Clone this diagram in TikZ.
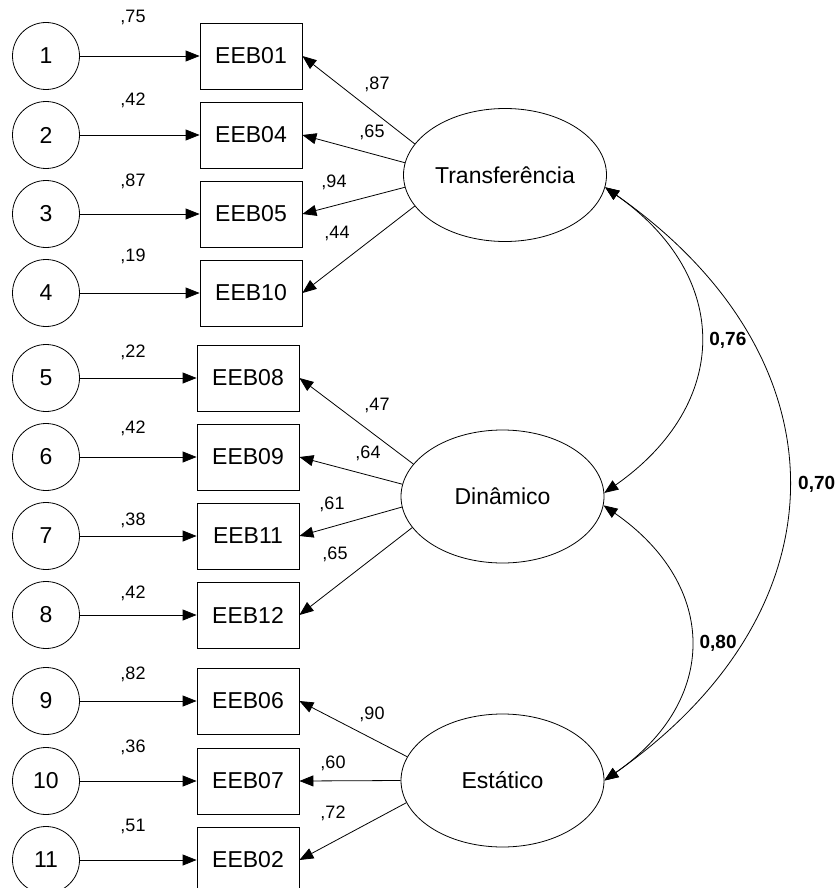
\documentclass[tikz,border=0pt]{standalone}
\usepackage{fontspec}
\setmainfont{Liberation Sans}
\usetikzlibrary{shapes.geometric,arrows.meta}

\tikzset{
  errc/.style={circle, draw, minimum size=67pt, inner sep=0pt, font=\fontsize{23}{27}\selectfont},
  obs/.style={rectangle, draw, minimum width=102pt, minimum height=66pt, inner sep=0pt, font=\fontsize{23}{27}\selectfont},
  latent/.style={ellipse, draw, minimum width=203pt, minimum height=133pt, inner sep=0pt, font=\fontsize{23}{27}\selectfont},
  coef/.style={inner sep=0pt, font=\fontsize{18}{21}\selectfont},
  corr/.style={inner sep=0pt, font=\bfseries\fontsize{19}{22}\selectfont}
}

\begin{document}
\begin{tikzpicture}[x=1pt, y={(0pt,-1pt)}, line width=0.8pt, >={Triangle[length=14pt,width=11pt]}]
    \useasboundingbox (0,0) rectangle (838,888);
    \clip (0,0) rectangle (838,888);
    % factors
    \node[latent] (tr) at (505,175) {Transferência};
    \node[latent] (din) at (502.5,496.5) {Dinâmico};
    \node[latent] (est) at (502.5,780.5) {Estático};
    % error terms and items
    \foreach \i/\x/\y/\obs/\err/\ly in {1/251/56/EEB01/{,75}/17, 2/251/135/EEB04/{,42}/100,
        3/251/214/EEB05/{,87}/181, 4/251/293/EEB10/{,19}/256, 5/248/378/EEB08/{,22}/352,
        6/248/457/EEB09/{,42}/428, 7/248/536/EEB11/{,38}/520, 8/248/615/EEB12/{,42}/593,
        9/248/701/EEB06/{,82}/674, 10/248/781/EEB07/{,36}/747, 11/248/860/EEB02/{,51}/826} {
        \node[errc] (e\i) at (46,\y) {\i};
        \node[obs] (v\i) at (\x,\y) {\obs};
        \draw[->] (e\i) -- (v\i);
        \node[coef] (w\i) at (133,\ly) {\err};
    }
    % loadings
    \foreach \f/\a/\i/\lx/\ly/\val in {tr/161/1/377/84/{,87}, tr/173/2/372/132/{,65},
        tr/187/3/334/182/{,94}, tr/199/4/337/233/{,44}, din/160/5/377/405/{,47},
        din/173/6/368/453/{,64}, din/186/7/332/504/{,61}, din/199/8/335/554/{,65},
        est/166/9/372/714/{,90}, est/180/10/333/763/{,60}, est/193/11/333/813/{,72}} {
        \draw[->] (\f.\a) -- (v\i.east);
        \node[coef] (l\i) at (\lx,\ly) {\val};
    }
    % correlations
    \draw[<->] (tr.-7) .. controls +(127,89) and +(127,-89) .. node[corr, pos=.5, right=9pt] (c1) {0,76} (din.2);
    \draw[<->] (din.-5) .. controls +(115,80) and +(115,-80) .. node[corr, pos=.5, right=9pt] (c2) {0,80} (est.0);
    \draw[<->] (tr.-7) .. controls +(244,171) and +(244,-171) .. node[corr, pos=.5, right=10pt] (c3) {0,70} (est.0);
\end{tikzpicture}
\end{document}
